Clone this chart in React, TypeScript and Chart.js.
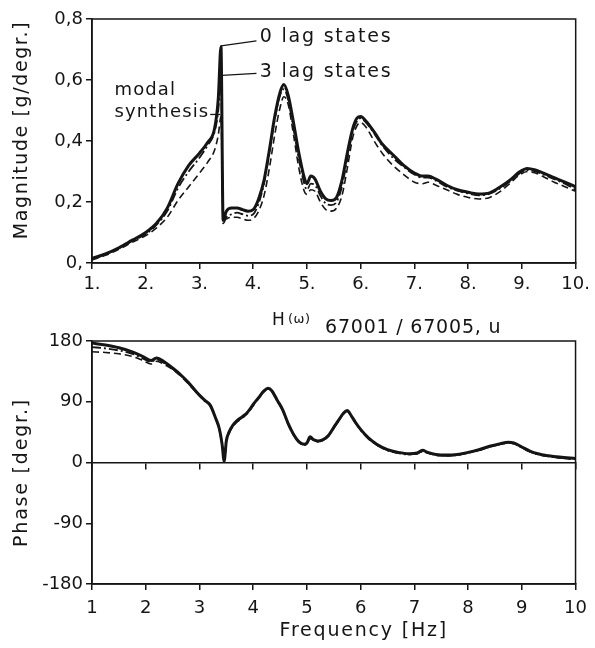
import React, { useEffect, useRef } from 'react';
import { Chart, registerables } from 'chart.js';

Chart.register(...registerables);

// ---------------- data ----------------
const seriesNames = ['0 lag states', '3 lag states', 'modal synthesis'];

const magFreq = [1.0, 1.25, 1.5, 1.75, 2.0, 2.2, 2.4, 2.6, 2.8, 3.0, 3.15, 3.28, 3.35, 3.40, 3.44, 3.5, 3.6, 3.7, 3.8, 3.9, 4.0, 4.1, 4.2, 4.3, 4.4, 4.5, 4.57, 4.65, 4.75, 4.85, 4.95, 5.0, 5.07, 5.15, 5.25, 5.35, 5.45, 5.55, 5.65, 5.75, 5.85, 5.93, 6.0, 6.1, 6.25, 6.4, 6.6, 6.8, 7.0, 7.15, 7.25, 7.4, 7.6, 7.8, 8.0, 8.2, 8.4, 8.6, 8.8, 8.95, 9.1, 9.25, 9.4, 9.6, 9.8, 10.0];

const mag0Lag = [0.015, 0.03, 0.05, 0.075, 0.10, 0.13, 0.18, 0.26, 0.32, 0.36, 0.395, 0.44, 0.54, 0.71, 0.14, 0.17, 0.18, 0.18, 0.175, 0.17, 0.175, 0.21, 0.27, 0.37, 0.48, 0.56, 0.585, 0.55, 0.46, 0.36, 0.28, 0.26, 0.285, 0.275, 0.235, 0.21, 0.205, 0.215, 0.27, 0.36, 0.44, 0.475, 0.48, 0.465, 0.43, 0.39, 0.355, 0.32, 0.295, 0.285, 0.285, 0.275, 0.255, 0.24, 0.232, 0.226, 0.23, 0.25, 0.275, 0.298, 0.31, 0.305, 0.295, 0.28, 0.265, 0.25];

const mag3Lag = [0.012, 0.028, 0.048, 0.072, 0.095, 0.125, 0.17, 0.245, 0.30, 0.345, 0.385, 0.43, 0.50, 0.62, 0.13, 0.15, 0.16, 0.165, 0.16, 0.155, 0.16, 0.195, 0.26, 0.36, 0.47, 0.55, 0.57, 0.535, 0.44, 0.34, 0.26, 0.24, 0.26, 0.255, 0.22, 0.195, 0.19, 0.20, 0.25, 0.34, 0.43, 0.465, 0.475, 0.46, 0.425, 0.385, 0.345, 0.315, 0.29, 0.28, 0.28, 0.27, 0.25, 0.237, 0.228, 0.222, 0.227, 0.245, 0.27, 0.293, 0.305, 0.30, 0.29, 0.275, 0.26, 0.24];

const magModal = [0.01, 0.025, 0.045, 0.068, 0.09, 0.115, 0.15, 0.205, 0.25, 0.295, 0.33, 0.37, 0.42, 0.48, 0.14, 0.145, 0.15, 0.15, 0.145, 0.14, 0.145, 0.17, 0.22, 0.31, 0.42, 0.51, 0.545, 0.52, 0.42, 0.31, 0.235, 0.225, 0.24, 0.235, 0.20, 0.175, 0.17, 0.18, 0.22, 0.31, 0.41, 0.45, 0.46, 0.445, 0.40, 0.36, 0.32, 0.29, 0.265, 0.26, 0.265, 0.255, 0.24, 0.225, 0.215, 0.21, 0.215, 0.235, 0.265, 0.288, 0.30, 0.295, 0.283, 0.265, 0.25, 0.235];

const phaseFreq = [1.0, 1.25, 1.5, 1.75, 1.95, 2.1, 2.2, 2.35, 2.5, 2.65, 2.8, 2.95, 3.1, 3.2, 3.3, 3.37, 3.42, 3.46, 3.5, 3.55, 3.62, 3.7, 3.8, 3.9, 4.0, 4.1, 4.2, 4.28, 4.35, 4.45, 4.55, 4.65, 4.75, 4.85, 4.95, 5.0, 5.06, 5.12, 5.2, 5.3, 5.4, 5.5, 5.6, 5.68, 5.75, 5.82, 5.9, 6.0, 6.15, 6.3, 6.5, 6.7, 6.9, 7.05, 7.15, 7.25, 7.4, 7.6, 7.8, 8.0, 8.2, 8.4, 8.6, 8.75, 8.85, 9.0, 9.15, 9.3, 9.5, 9.7, 10.0];

const phase0Lag = [177, 174, 170, 164, 157, 151, 155, 149, 140, 130, 118, 104, 92, 85, 66, 50, 28, 2, 32, 45, 55, 62, 68, 75, 86, 96, 106, 110, 106, 92, 78, 58, 42, 31, 27, 29, 38, 34, 32, 34, 40, 52, 64, 73, 77, 70, 60, 49, 36, 27, 19, 15, 13, 14, 18, 15, 12, 11, 12, 15, 19, 24, 28, 30, 29, 23, 17, 13, 10, 8, 6];

const phase3Lag = [171, 169, 166, 161, 154, 149, 153, 147, 139, 129, 117, 103, 91, 84, 65, 49, 27, 3, 30, 44, 54, 61, 67, 74, 85, 95, 105, 109, 105, 91, 77, 57, 41, 30, 26, 28, 36, 33, 31, 33, 39, 51, 63, 72, 76, 69, 59, 48, 35, 26, 18, 14, 12, 13, 16, 14, 11, 10, 11, 14, 18, 23, 27, 29, 28, 22, 16, 12, 9, 7, 5];

const phaseModal = [164, 163, 161, 157, 151, 146, 150, 145, 138, 128, 116, 103, 91, 84, 66, 50, 28, 4, 31, 43, 53, 60, 66, 73, 84, 95, 105, 109, 105, 91, 77, 57, 41, 30, 26, 28, 35, 33, 31, 33, 39, 51, 63, 72, 76, 69, 59, 48, 35, 26, 18, 14, 12, 13, 16, 14, 11, 10, 11, 14, 18, 23, 27, 29, 28, 22, 16, 12, 9, 7, 4];

const magXTicks = [1, 2, 3, 4, 5, 6, 7, 8, 9, 10];
const magXLabels = ['1.', '2.', '3.', '4.', '5.', '6.', '7.', '8.', '9.', '10.'];
const magYTicks = [0, 0.2, 0.4, 0.6, 0.8];
const magYLabels = ['0,', '0,2', '0,4', '0,6', '0,8'];
const phaseXTicks = [1, 2, 3, 4, 5, 6, 7, 8, 9, 10];
const phaseXLabels = ['1', '2', '3', '4', '5', '6', '7', '8', '9', '10'];
const phaseYTicks = [-180, -90, 0, 90, 180];
const phaseYLabels = ['-180', '-90', '0', '90', '180'];

const magTitle = 'Magnitude [g/degr.]';
const phaseTitle = 'Phase [degr.]';
const freqTitle = 'Frequency [Hz]';
const transferTitle = ['H', '(ω)', '67001 / 67005, u'];

// annotation anchors (data units of the magnitude chart)
const magNotes = [
  { lines: [seriesNames[0]], x: 4.12, y: 0.741, from: [3.40, 0.712], to: [4.06, 0.728], leaderFromText: false, size: 19, spacing: 1.8 },
  { lines: [seriesNames[1]], x: 4.12, y: 0.626, from: [3.42, 0.615], to: [4.06, 0.622], leaderFromText: false, size: 19, spacing: 1.8 },
  { lines: ['modal', 'synthesis'], x: 1.42, y: 0.567, from: [3.14, 0.487], to: [3.39, 0.487], leaderFromText: true, size: 18, spacing: 1.1 },
];

// ---------------- styles ----------------
const INK = '#151515';
const FONT = "'DejaVu Sans', sans-serif";
const tickFont = { family: "'DejaVu Sans', sans-serif", size: 18 };

function toPts(xs: number[], ys: number[]) {
  return xs.map((x, i) => ({ x, y: ys[i] }));
}

function fixedTicks(values: number[]) {
  return (scale: any) => {
    scale.ticks = values.map((v) => ({ value: v }));
  };
}

function labelFrom(values: number[], labels: string[]) {
  return (v: any) => {
    const i = values.findIndex((t) => Math.abs(t - Number(v)) < 1e-9);
    return i >= 0 ? labels[i] : '';
  };
}

function datasets(xs: number[], a: number[], b: number[], c: number[]) {
  return [
    {
      label: seriesNames[2],
      data: toPts(xs, c),
      borderColor: INK,
      borderWidth: 1.6,
      borderDash: [7, 4],
      pointRadius: 0,
      fill: false,
      cubicInterpolationMode: 'monotone' as const,
    },
    {
      label: seriesNames[1],
      data: toPts(xs, b),
      borderColor: INK,
      borderWidth: 1.8,
      borderDash: [9, 3, 2, 3],
      pointRadius: 0,
      fill: false,
      cubicInterpolationMode: 'monotone' as const,
    },
    {
      label: seriesNames[0],
      data: toPts(xs, a),
      borderColor: INK,
      borderWidth: 3,
      pointRadius: 0,
      fill: false,
      cubicInterpolationMode: 'monotone' as const,
    },
  ];
}

const framePlugin = {
  id: 'frame',
  afterDraw(chart: any) {
    const { ctx, chartArea: a } = chart;
    ctx.save();
    ctx.strokeStyle = INK;
    ctx.lineWidth = 1.5;
    ctx.strokeRect(a.left, a.top, a.right - a.left, a.bottom - a.top);
    ctx.restore();
  },
};

function spaced(ctx: any, text: string, x: number, y: number, spacing: number) {
  ctx.letterSpacing = spacing + 'px';
  ctx.fillText(text, x, y);
  ctx.letterSpacing = '0px';
}

const magTextPlugin = {
  id: 'magText',
  afterDraw(chart: any) {
    const { ctx, chartArea: a, scales } = chart;
    const sx = scales.x;
    const sy = scales.y;
    ctx.save();
    ctx.fillStyle = INK;
    ctx.strokeStyle = INK;
    ctx.lineWidth = 1.3;
    ctx.textBaseline = 'middle';
    ctx.textAlign = 'left';
    magNotes.forEach((n) => {
      ctx.font = `${n.size}px ${FONT}`;
      const tx = sx.getPixelForValue(n.x);
      const ty = sy.getPixelForValue(n.y);
      n.lines.forEach((l, i) => spaced(ctx, l, tx, ty + i * 22, n.spacing));
      let x0 = sx.getPixelForValue(n.from[0]);
      const y0 = sy.getPixelForValue(n.from[1]);
      if (n.leaderFromText) {
        ctx.letterSpacing = n.spacing + 'px';
        x0 = tx + ctx.measureText(n.lines[n.lines.length - 1]).width + 1;
        ctx.letterSpacing = '0px';
      }
      ctx.beginPath();
      ctx.moveTo(x0, y0);
      ctx.lineTo(sx.getPixelForValue(n.to[0]), sy.getPixelForValue(n.to[1]));
      ctx.stroke();
    });
    // y title
    ctx.font = `19px ${FONT}`;
    ctx.translate(22, (a.top + a.bottom) / 2 - 11);
    ctx.rotate(-Math.PI / 2);
    ctx.textAlign = 'center';
    spaced(ctx, magTitle, 0, 0, 1.6);
    ctx.restore();
  },
};

const phaseTextPlugin = {
  id: 'phaseText',
  afterDraw(chart: any) {
    const { ctx, chartArea: a } = chart;
    ctx.save();
    ctx.fillStyle = INK;
    ctx.textAlign = 'left';
    ctx.textBaseline = 'alphabetic';
    ctx.font = `17px ${FONT}`;
    spaced(ctx, transferTitle[0], a.left + 180, a.top - 16, 0);
    ctx.font = `13px ${FONT}`;
    spaced(ctx, transferTitle[1], a.left + 196, a.top - 18, 0.5);
    ctx.font = `19px ${FONT}`;
    spaced(ctx, transferTitle[2], a.left + 233, a.top - 8, 0.8);
    // x title
    ctx.textAlign = 'center';
    ctx.textBaseline = 'middle';
    spaced(ctx, freqTitle, (a.left + a.right) / 2 + 30, a.bottom + 47, 1.8);
    // y title
    ctx.translate(22, (a.top + a.bottom) / 2 + 10);
    ctx.rotate(-Math.PI / 2);
    spaced(ctx, phaseTitle, 0, 0, 1.8);
    ctx.restore();
  },
};

const axisGrid = { drawOnChartArea: false, drawTicks: true, tickLength: 6, color: INK, lineWidth: 1.5 };
const axisBorder = { display: true, color: INK, width: 1.5 };

export default function App() {
  const magRef = useRef<HTMLCanvasElement>(null);
  const phaseRef = useRef<HTMLCanvasElement>(null);

  useEffect(() => {
    const magChart = new Chart(magRef.current as HTMLCanvasElement, {
      type: 'line',
      data: { datasets: datasets(magFreq, mag0Lag, mag3Lag, magModal) as any },
      options: {
        animation: false,
        responsive: false,
        devicePixelRatio: 1,
        layout: { padding: { top: 19, right: 15, left: 0, bottom: 0 } },
        plugins: { legend: { display: false }, tooltip: { enabled: false }, title: { display: false } },
        scales: {
          x: {
            type: 'linear',
            min: 1,
            max: 10,
            afterBuildTicks: fixedTicks(magXTicks),
            afterFit: (s: any) => { s.height = 37; },
            ticks: { callback: labelFrom(magXTicks, magXLabels), color: INK, font: tickFont, padding: 5, maxRotation: 0, autoSkip: false },
            grid: axisGrid,
            border: axisBorder,
          },
          y: {
            type: 'linear',
            min: 0,
            max: 0.8,
            afterBuildTicks: fixedTicks(magYTicks),
            afterFit: (s: any) => { s.width = 92; },
            ticks: { callback: labelFrom(magYTicks, magYLabels), color: INK, font: tickFont, padding: 3, autoSkip: false },
            grid: axisGrid,
            border: axisBorder,
          },
        },
      } as any,
      plugins: [framePlugin, magTextPlugin],
    });

    const phaseChart = new Chart(phaseRef.current as HTMLCanvasElement, {
      type: 'line',
      data: { datasets: datasets(phaseFreq, phase0Lag, phase3Lag, phaseModal) as any },
      options: {
        animation: false,
        responsive: false,
        devicePixelRatio: 1,
        layout: { padding: { top: 41, right: 15, left: 0, bottom: 0 } },
        plugins: { legend: { display: false }, tooltip: { enabled: false }, title: { display: false } },
        scales: {
          x: {
            type: 'linear',
            min: 1,
            max: 10,
            afterBuildTicks: fixedTicks(phaseXTicks),
            afterFit: (s: any) => { s.height = 64; },
            ticks: { callback: labelFrom(phaseXTicks, phaseXLabels), color: INK, font: tickFont, padding: 8, maxRotation: 0, autoSkip: false },
            grid: axisGrid,
            border: axisBorder,
          },
          xZero: {
            type: 'linear',
            position: { y: 0 },
            min: 1,
            max: 10,
            afterBuildTicks: fixedTicks(phaseXTicks),
            ticks: { display: false },
            grid: axisGrid,
            border: axisBorder,
          },
          y: {
            type: 'linear',
            min: -180,
            max: 180,
            afterBuildTicks: fixedTicks(phaseYTicks),
            afterFit: (s: any) => { s.width = 92; },
            ticks: { callback: labelFrom(phaseYTicks, phaseYLabels), color: INK, font: tickFont, padding: 3, autoSkip: false },
            grid: axisGrid,
            border: axisBorder,
          },
        },
      } as any,
      plugins: [framePlugin, phaseTextPlugin],
    });

    return () => {
      magChart.destroy();
      phaseChart.destroy();
    };
  }, []);

  return (
    <div style={{ position: 'absolute', left: 0, top: 0, width: 595, height: 648, background: '#fff' }}>
      <canvas ref={magRef} width={595} height={300} style={{ position: 'absolute', left: 0, top: 0, width: 595, height: 300 }} />
      <canvas ref={phaseRef} width={595} height={348} style={{ position: 'absolute', left: 0, top: 300, width: 595, height: 348 }} />
    </div>
  );
}
